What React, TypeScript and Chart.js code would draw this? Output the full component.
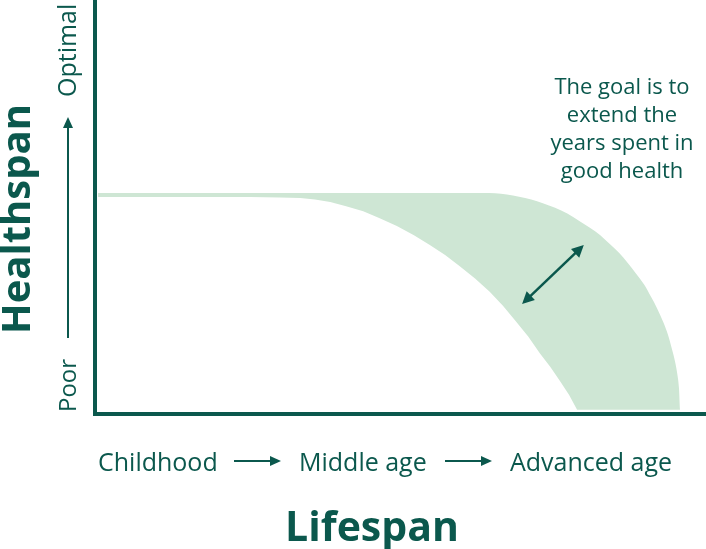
import React, { useEffect, useRef } from "react";
import { Chart, registerables } from "chart.js";

Chart.register(...registerables);

// ---- data (x: lifespan 0..100, y: healthspan 0..100) ----
// upper edge: years in good health once the goal is reached
const UPPER_X = [0.5, 63.5, 65.5, 67.4, 69.4, 71.4, 73.3, 75.3, 77.3, 79.2, 81.0, 82.7, 84.3, 85.8, 87.2, 88.5, 89.9, 91.0, 92.0, 93.0, 93.8, 94.4, 94.93, 95.34, 95.58, 95.74];
const UPPER_Y = [53.4, 53.4, 53.3, 53.0, 52.5, 51.8, 50.9, 49.8, 48.4, 46.7, 45.0, 43.2, 41.0, 38.9, 36.5, 34.0, 31.2, 28.3, 25.5, 22.2, 19.0, 15.8, 12.7, 9.3, 6.2, 1.0];
// lower edge: current healthspan
const LOWER_X = [0.5, 25.4, 30.3, 33.6, 36.0, 38.5, 41.1, 43.9, 46.6, 49.4, 52.2, 54.8, 57.3, 59.7, 62.2, 64.6, 66.8, 68.7, 70.9, 72.8, 74.5, 76.1, 77.6, 78.9, 95.74];
const LOWER_Y = [52.4, 52.4, 52.3, 52.2, 51.8, 51.2, 50.2, 49.0, 47.3, 45.4, 43.2, 40.8, 38.4, 35.7, 32.7, 29.5, 26.1, 22.7, 18.7, 14.7, 11.4, 8.0, 4.6, 1.0, 1.0];

const STAGE_LABELS = ["Childhood", "Middle age", "Advanced age"];
const Y_LABELS = ["Poor", "Optimal"];
const X_TITLE = "Lifespan";
const Y_TITLE = "Healthspan";
const NOTE_LINES = ["The goal is to", "extend the", "years spent in", "good health"];
// double arrow end points in data units
const GAP_ARROW_X = [69.9, 80.0];
const GAP_ARROW_Y = [26.6, 40.8];

const DARK = "#0b584d";
const FILL = "#cee6d4";
const FONT = '"Open Sans", "DejaVu Sans", sans-serif';

function arrowHead(ctx: CanvasRenderingContext2D, x1: number, y1: number, x2: number, y2: number, len: number, half: number) {
  const a = Math.atan2(y2 - y1, x2 - x1);
  const bx = x2 - len * Math.cos(a);
  const by = y2 - len * Math.sin(a);
  ctx.beginPath();
  ctx.moveTo(x2, y2);
  ctx.lineTo(bx + half * Math.sin(a), by - half * Math.cos(a));
  ctx.lineTo(bx - half * Math.sin(a), by + half * Math.cos(a));
  ctx.closePath();
  ctx.fill();
}

function arrow(ctx: CanvasRenderingContext2D, x1: number, y1: number, x2: number, y2: number, len: number, half: number, lw: number, both = false) {
  const a = Math.atan2(y2 - y1, x2 - x1);
  ctx.lineWidth = lw;
  ctx.beginPath();
  const sx = both ? x1 + (len - 1) * Math.cos(a) : x1;
  const sy = both ? y1 + (len - 1) * Math.sin(a) : y1;
  ctx.moveTo(sx, sy);
  ctx.lineTo(x2 - (len - 1) * Math.cos(a), y2 - (len - 1) * Math.sin(a));
  ctx.stroke();
  arrowHead(ctx, x1, y1, x2, y2, len, half);
  if (both) arrowHead(ctx, x2, y2, x1, y1, len, half);
}

const decorPlugin = {
  id: "decor",
  afterDraw(chart: any) {
    const { ctx, scales } = chart;
    const xs = scales.x;
    const ys = scales.y;
    ctx.save();
    ctx.fillStyle = DARK;
    ctx.strokeStyle = DARK;
    ctx.textBaseline = "alphabetic";

    // stage labels along the bottom
    ctx.font = `25px ${FONT}`;
    ctx.textAlign = "left";
    const stageX = [98, 299, 510];
    STAGE_LABELS.forEach((t, i) => ctx.fillText(t, stageX[i], 471));
    arrow(ctx, 234, 461, 281, 461, 11, 5, 2);
    arrow(ctx, 445, 461, 492, 461, 11, 5, 2);

    // x title
    ctx.font = `bold 41px ${FONT}`;
    ctx.textAlign = "center";
    ctx.fillText(X_TITLE, 372, 541);

    // y title (rotated)
    ctx.font = `bold 40px ${FONT}`;
    ctx.save();
    ctx.translate(30, 219);
    ctx.rotate(-Math.PI / 2);
    ctx.fillText(Y_TITLE, 0, 0);
    ctx.restore();

    // Poor / Optimal
    ctx.font = `24px ${FONT}`;
    ctx.save();
    ctx.translate(76, 412);
    ctx.rotate(-Math.PI / 2);
    ctx.textAlign = "left";
    ctx.fillText(Y_LABELS[0], 0, 0);
    ctx.restore();
    ctx.font = `25px ${FONT}`;
    ctx.save();
    ctx.translate(76, 97);
    ctx.rotate(-Math.PI / 2);
    ctx.textAlign = "left";
    ctx.fillText(Y_LABELS[1], 0, 0);
    ctx.restore();
    arrow(ctx, 68, 338, 68, 117, 11, 5, 2);

    // note
    ctx.font = `22px ${FONT}`;
    ctx.textAlign = "center";
    NOTE_LINES.forEach((t, i) => ctx.fillText(t, 622, 94 + i * 28));

    // double arrow across the gap
    arrow(
      ctx,
      xs.getPixelForValue(GAP_ARROW_X[0]),
      ys.getPixelForValue(GAP_ARROW_Y[0]),
      xs.getPixelForValue(GAP_ARROW_X[1]),
      ys.getPixelForValue(GAP_ARROW_Y[1]),
      12,
      6,
      2.5,
      true
    );
    ctx.restore();
  },
};

export default function App() {
  const ref = useRef<HTMLCanvasElement | null>(null);
  useEffect(() => {
    document.body.style.margin = "0";
    if (!ref.current) return;
    const upper = UPPER_X.map((x, i) => ({ x, y: UPPER_Y[i] }));
    const lower = LOWER_X.map((x, i) => ({ x, y: LOWER_Y[i] }));
    const chart = new Chart(ref.current, {
      type: "line",
      data: {
        datasets: [
          {
            data: upper,
            fill: "+1",
            backgroundColor: FILL,
            borderColor: "rgba(0,0,0,0)",
            borderWidth: 0,
            pointRadius: 0,
            cubicInterpolationMode: "monotone",
          },
          {
            data: lower,
            fill: false,
            borderColor: "rgba(0,0,0,0)",
            borderWidth: 0,
            pointRadius: 0,
            tension: 0,
          },
        ],
      },
      options: {
        responsive: false,
        animation: false,
        events: [],
        layout: { padding: { left: 95, right: 0, top: 0, bottom: 135 } },
        plugins: { legend: { display: false }, tooltip: { enabled: false } },
        scales: {
          x: {
            type: "linear",
            min: 0,
            max: 100,
            ticks: { display: false },
            grid: { display: false, drawTicks: false },
            border: { display: true, width: 4, color: DARK },
          },
          y: {
            type: "linear",
            min: 0,
            max: 100,
            ticks: { display: false },
            grid: { display: false, drawTicks: false },
            border: { display: true, width: 4, color: DARK },
          },
        },
      },
      plugins: [decorPlugin],
    } as any);
    return () => chart.destroy();
  }, []);
  return (
    <div style={{ width: 706, height: 549 }}>
      <canvas ref={ref} width={706} height={549} />
    </div>
  );
}
